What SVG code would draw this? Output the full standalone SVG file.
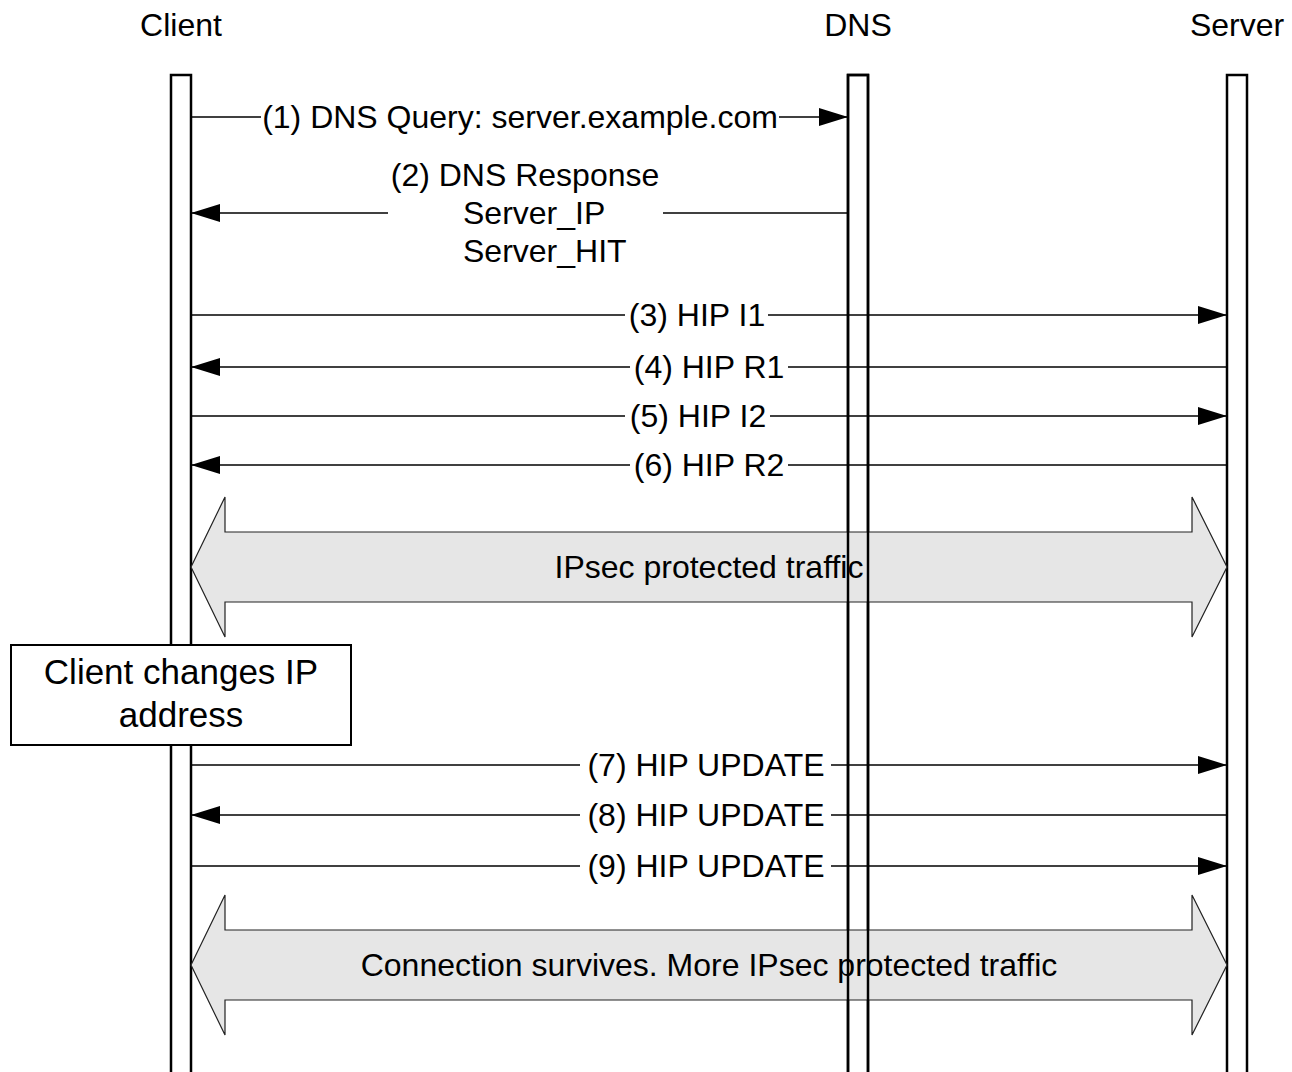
<svg xmlns="http://www.w3.org/2000/svg" width="1292" height="1072" viewBox="0 0 1292 1072">
  <style>
    text { font-family: "Liberation Sans", Arial, sans-serif; fill: #000; }
    .title { font-size: 32px; text-anchor: middle; }
    .lbl { font-size: 32px; text-anchor: middle; }
    .lbl-start { font-size: 32px; text-anchor: start; }
    .note { font-size: 35px; text-anchor: middle; }
    .life { fill: #fff; stroke: #000; stroke-width: 2.5; }
    .life-edge { fill: none; stroke: #000; stroke-width: 2.5; }
    .msg { stroke: #000; stroke-width: 1.3; fill: none; }
    .band { fill: #e6e6e6; stroke: #222; stroke-width: 1.2; stroke-linejoin: miter; }
    .box { fill: #fff; stroke: #000; stroke-width: 2; }
  </style>
  <defs>
    <marker id="head" markerUnits="userSpaceOnUse" markerWidth="30" markerHeight="20" refX="29" refY="9" orient="auto">
      <path d="M0,0 L29,9 L0,18 z" fill="#000"/>
    </marker>
  </defs>

  <!-- participant titles -->
  <g id="titles">
    <text class="title" x="181" y="36">Client</text>
    <text class="title" x="858" y="36">DNS</text>
    <text class="title" x="1237" y="36">Server</text>
  </g>

  <!-- lifelines -->
  <g id="lifeline-client"><rect class="life" x="171" y="75" width="20" height="1010"/></g>
  <g id="lifeline-dns"><rect class="life" x="848" y="75" width="20" height="1010"/></g>
  <g id="lifeline-server"><rect class="life" x="1227" y="75" width="20" height="1010"/></g>

  <!-- traffic bands -->
  <g id="band-ipsec">
    <polygon class="band" points="191,567 225,497 225,532 1192,532 1192,497 1227,567 1192,637 1192,602 225,602 225,637"/>
  </g>
  <g id="band-survives">
    <polygon class="band" points="191,965 225,895 225,930 1192,930 1192,895 1227,965 1192,1035 1192,1000 225,1000 225,1035"/>
  </g>

  <!-- lifeline edges kept visible over the bands -->
  <g id="lifeline-edges">
    <rect class="life-edge" x="848" y="75" width="20" height="1010"/>
  </g>

  <!-- messages -->
  <g id="connectors">
    <line class="msg" x1="191" y1="117" x2="261" y2="117"/>
    <line class="msg" x1="779" y1="117" x2="848" y2="117" marker-end="url(#head)"/>

    <line class="msg" x1="848" y1="213" x2="663" y2="213"/>
    <line class="msg" x1="388" y1="213" x2="191" y2="213" marker-end="url(#head)"/>

    <line class="msg" x1="191" y1="315" x2="625" y2="315"/>
    <line class="msg" x1="768" y1="315" x2="1227" y2="315" marker-end="url(#head)"/>

    <line class="msg" x1="1227" y1="367" x2="788" y2="367"/>
    <line class="msg" x1="630" y1="367" x2="191" y2="367" marker-end="url(#head)"/>

    <line class="msg" x1="191" y1="416" x2="625" y2="416"/>
    <line class="msg" x1="770" y1="416" x2="1227" y2="416" marker-end="url(#head)"/>

    <line class="msg" x1="1227" y1="465" x2="788" y2="465"/>
    <line class="msg" x1="630" y1="465" x2="191" y2="465" marker-end="url(#head)"/>

    <line class="msg" x1="191" y1="765" x2="580" y2="765"/>
    <line class="msg" x1="831" y1="765" x2="1227" y2="765" marker-end="url(#head)"/>

    <line class="msg" x1="1227" y1="815" x2="831" y2="815"/>
    <line class="msg" x1="580" y1="815" x2="191" y2="815" marker-end="url(#head)"/>

    <line class="msg" x1="191" y1="866" x2="580" y2="866"/>
    <line class="msg" x1="831" y1="866" x2="1227" y2="866" marker-end="url(#head)"/>
  </g>

  <!-- message labels -->
  <g id="labels">
    <text class="lbl" x="520" y="128">(1) DNS Query: server.example.com</text>
    <text class="lbl" x="525" y="186">(2) DNS Response</text>
    <text class="lbl-start" x="463" y="224">Server_IP</text>
    <text class="lbl-start" x="463" y="262">Server_HIT</text>
    <text class="lbl" x="697" y="326">(3) HIP I1</text>
    <text class="lbl" x="709" y="378">(4) HIP R1</text>
    <text class="lbl" x="698" y="427">(5) HIP I2</text>
    <text class="lbl" x="709" y="476">(6) HIP R2</text>
    <text class="lbl" x="706" y="776">(7) HIP UPDATE</text>
    <text class="lbl" x="706" y="826">(8) HIP UPDATE</text>
    <text class="lbl" x="706" y="877">(9) HIP UPDATE</text>
    <text class="lbl" x="709" y="578">IPsec protected traffic</text>
    <text class="lbl" x="709" y="976">Connection survives. More IPsec protected traffic</text>
  </g>

  <!-- state note on the client -->
  <g id="note-client-ip">
    <rect class="box" x="11" y="645" width="340" height="100"/>
    <text class="note" x="181" y="684">Client changes IP</text>
    <text class="note" x="181" y="727">address</text>
  </g>
</svg>
